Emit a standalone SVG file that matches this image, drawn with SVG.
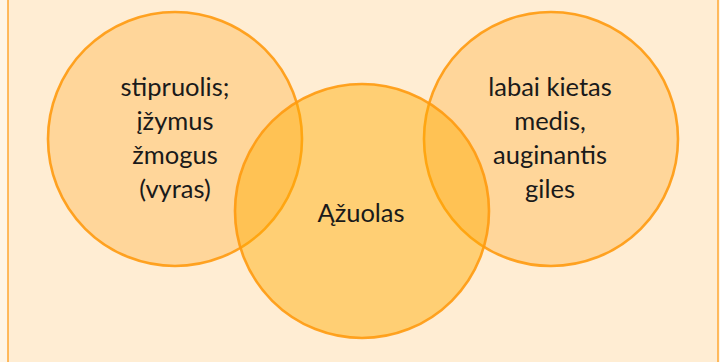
<svg xmlns="http://www.w3.org/2000/svg" width="720" height="362" viewBox="0 0 720 362">
  <style>
    .circle { stroke: #FF9A10; stroke-width: 2.6; stroke-opacity: 0.9; }
    .outer { fill: #FF9600; fill-opacity: 0.27; }
    .center { fill: #FFAA00; fill-opacity: 0.45; }
    .label { font-family: Lato, "Open Sans", "DejaVu Sans", sans-serif; font-size: 25.5px; fill: #1A1A1A; text-anchor: middle; }
  </style>
  <rect x="0" y="0" width="720" height="362" fill="#FFF5E6"/>
  <rect id="frame" x="8" y="-10" width="710" height="382" fill="#FFEDD3" stroke="#FFA733" stroke-width="1.5"/>
  <g id="left">
    <circle class="circle outer" cx="175" cy="139" r="127"/>
    <text class="label" x="175" y="96">stipruolis;</text>
    <text class="label" x="175" y="130">įžymus</text>
    <text class="label" x="175" y="164">žmogus</text>
    <text class="label" x="175" y="198">(vyras)</text>
  </g>
  <g id="right">
    <circle class="circle outer" cx="551" cy="139" r="127"/>
    <text class="label" x="550" y="96">labai kietas</text>
    <text class="label" x="550" y="130">medis,</text>
    <text class="label" x="550" y="164">auginantis</text>
    <text class="label" x="550" y="198">giles</text>
  </g>
  <g id="center">
    <circle class="circle center" cx="362" cy="211" r="127"/>
    <text class="label" x="361" y="222">Ąžuolas</text>
  </g>
  <g id="connectors"/>
</svg>
